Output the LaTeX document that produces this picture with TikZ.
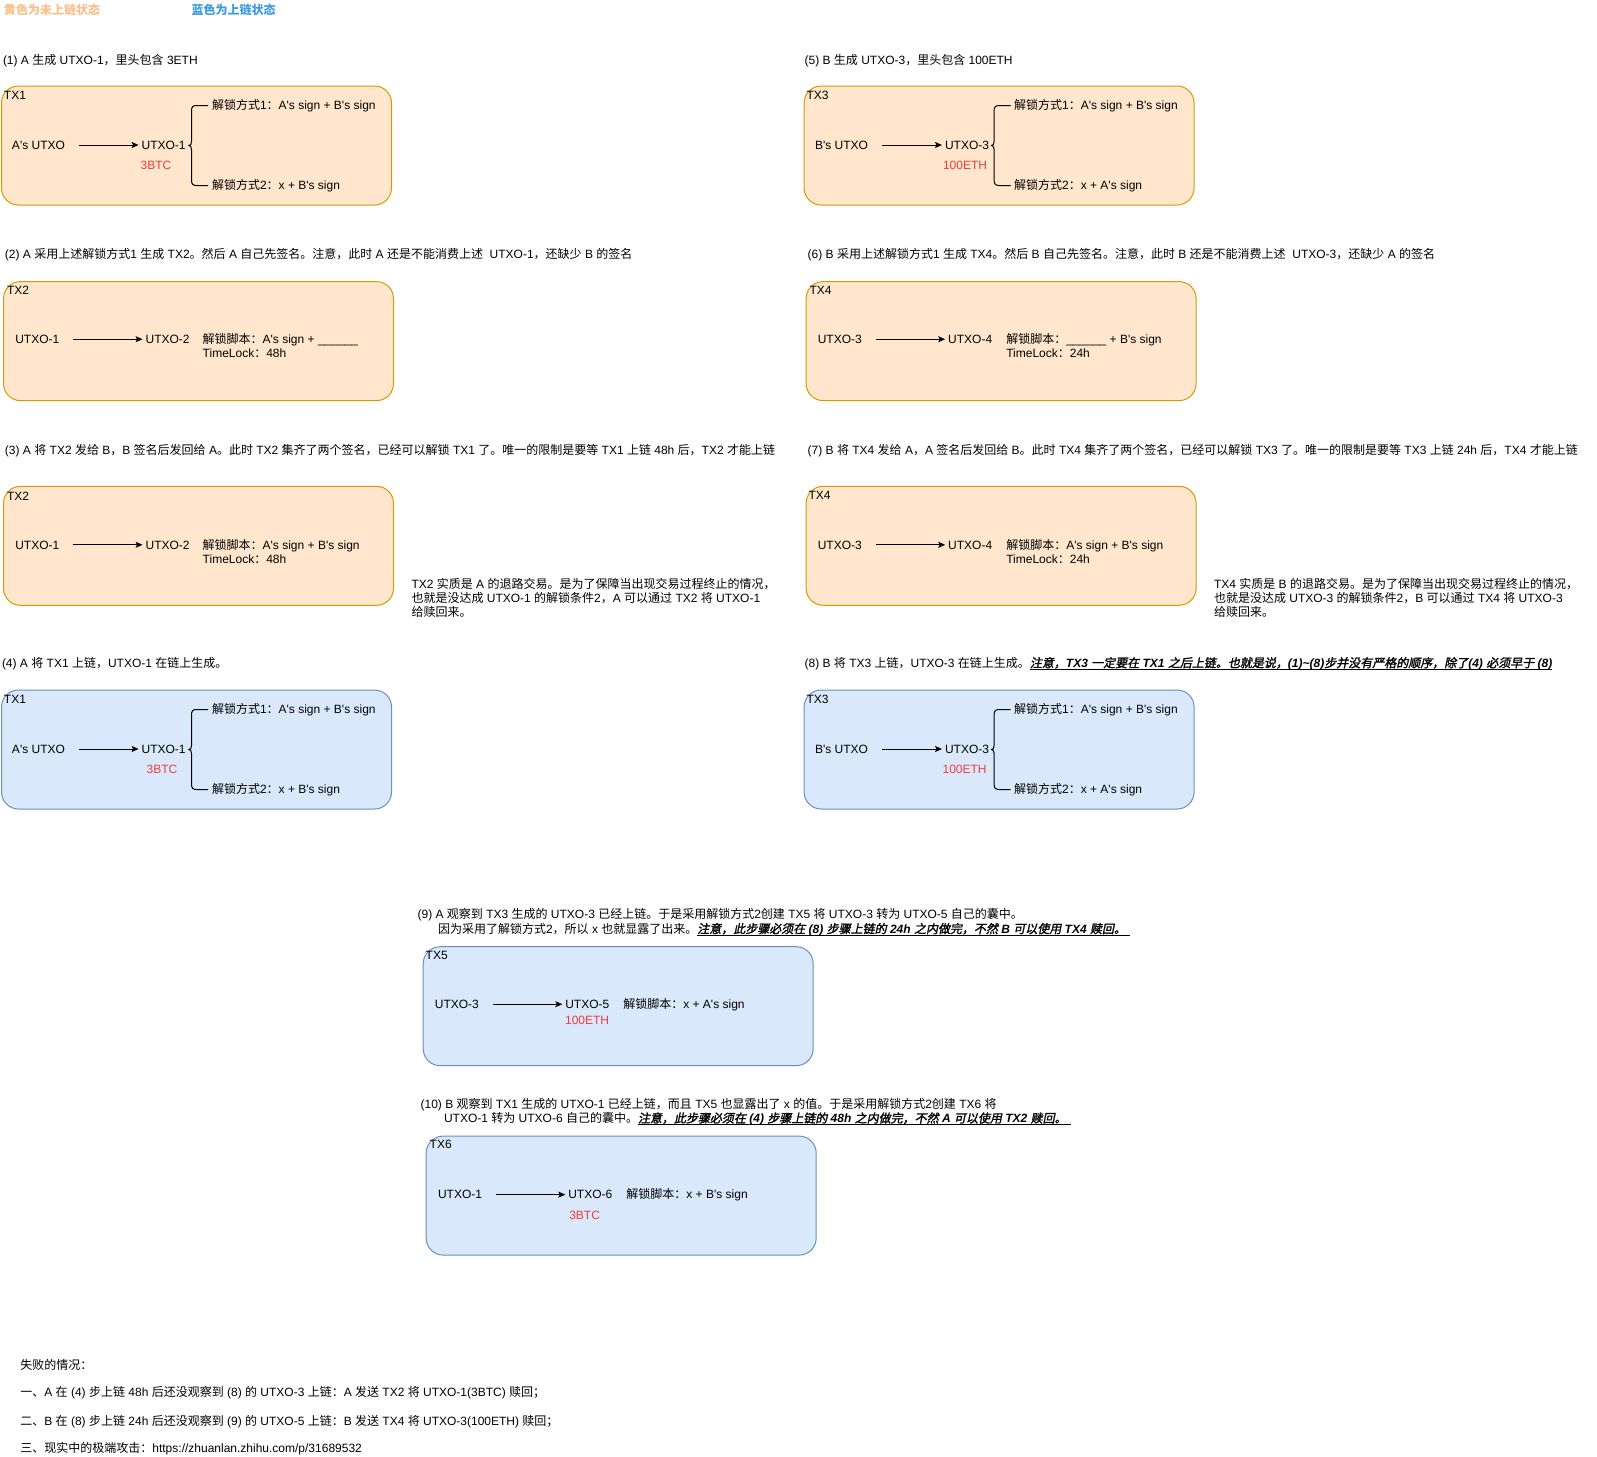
\documentclass[tikz,border=0pt]{standalone}
\usepackage{fontspec}
\usetikzlibrary{arrows.meta}

% Latin text in an Arial-width face, Chinese in Noto Sans CJK
\newfontfamily\latfont{Liberation Sans}
\newfontfamily\cjkfont{Noto Sans CJK SC}[
  ItalicFont={*}, ItalicFeatures={FakeSlant=0.2},
  BoldItalicFont={*}, BoldItalicFeatures={FakeSlant=0.2, FakeBold=1.6}]

% switch to the CJK face automatically for every run of Chinese characters
\XeTeXinterchartokenstate=1
\chardef\cjkcls=7
\makeatletter
\def\setcjkrange#1#2{\count@=#1\relax
  \loop\ifnum\count@<#2\relax\XeTeXcharclass\count@=\cjkcls\advance\count@\@ne\repeat}
\setcjkrange{"3000}{"3040}
\setcjkrange{"4E00}{"A000}
\setcjkrange{"FF00}{"FFF0}
\makeatother
\XeTeXinterchartoks 0 \cjkcls = {\begingroup\cjkfont}
\XeTeXinterchartoks 4095 \cjkcls = {\begingroup\cjkfont}
\XeTeXinterchartoks \cjkcls 0 = {\endgroup}
\XeTeXinterchartoks \cjkcls 4095 = {\endgroup}

% underlined emphasis
\newcommand\undl[1]{\setbox0=\hbox{#1}\rlap{\rule[-2.3pt]{\wd0}{0.9pt}}\box0}
\newcommand\blank{\_\_\_\_\_\_}

\definecolor{ylwfill}{HTML}{FFE6CC}
\definecolor{ylwline}{HTML}{D79B00}
\definecolor{blufill}{HTML}{DAE8FC}
\definecolor{bluline}{HTML}{6C8EBF}
\definecolor{amtred}{HTML}{F03C3C}
\definecolor{legy}{HTML}{F9C089}
\definecolor{legb}{HTML}{3B9AE8}

\tikzset{
  txt/.style={inner sep=0pt, outer sep=0pt, anchor=west, text height=8.6pt, text depth=0pt,
    font=\latfont\fontsize{12}{14.4}\selectfont},
  amount/.style={txt, anchor=center, text=amtred},
  ybox/.style={draw=ylwline, fill=ylwfill, line width=1pt, rounded corners=17pt,
    minimum width=390pt, minimum height=119pt, anchor=north west, inner sep=0pt},
  bbox/.style={ybox, draw=bluline, fill=blufill},
  flow/.style={-{Stealth[length=7pt,width=6pt,inset=1.5pt]}, line width=1pt,
    shorten <=14pt, shorten >=3pt},
  brc/.style={line width=1pt},
}

% curly bracket that splits an output into its two unlock conditions
\newcommand\unlockbrace{%
  \draw[brc] (207,20) -- (195.5,20) .. controls (192,20) and (190.5,21.5) .. (190.5,25)
    -- (190.5,56) .. controls (190.5,58.5) and (189.5,60) .. (188,60)
    .. controls (189.5,60) and (190.5,61.5) .. (190.5,64)
    -- (190.5,95) .. controls (190.5,98.5) and (192,100) .. (195.5,100) -- (207,100);}

\begin{document}
\begin{tikzpicture}[x=1pt,y=-1pt]
\fill[white] (0,0) rectangle (1597,1456);
\useasboundingbox (0,0) rectangle (1597,1456);

% legend
\node[txt, text=legy] (legendy) at (4,10) {\bfseries 黄色为未上链状态};
\node[txt, text=legb] (legendb) at (191.5,10) {\bfseries 蓝色为上链状态};

% ---------- step (1) / (5) ----------
\node[txt] (s1) at (3,60) {(1) A 生成 UTXO-1，里头包含 3ETH};
\node[txt] (s5) at (804.6,60) {(5) B 生成 UTXO-3，里头包含 100ETH};

\begin{scope}[shift={(1,85.5)}]
  \node[ybox] (tx1ybox) at (0,0) {};
  \node[txt] (tx1yname) at (3,9.5) {TX1};
  \node[txt] (tx1yin) at (11,59.5) {A's UTXO};
  \node[txt] (tx1yout) at (140.6,59.5) {UTXO-1};
  \node[amount] (tx1yamt) at (155,79.5) {3BTC};
  \unlockbrace
  \node[txt] (tx1yk1) at (211,19.5) {解锁方式1：A's sign + B's sign};
  \node[txt] (tx1yk2) at (211,99.5) {解锁方式2：x + B's sign};
  \draw[flow] (tx1yin) -- (tx1yout);
\end{scope}

\begin{scope}[shift={(803.6,85.5)}]
  \node[ybox] (tx3ybox) at (0,0) {};
  \node[txt] (tx3yname) at (3,9.5) {TX3};
  \node[txt] (tx3yin) at (11.4,59.5) {B's UTXO};
  \node[txt] (tx3yout) at (141.4,59.5) {UTXO-3};
  \node[amount] (tx3yamt) at (161.4,79.5) {100ETH};
  \unlockbrace
  \node[txt] (tx3yk1) at (210.5,19.5) {解锁方式1：A's sign + B's sign};
  \node[txt] (tx3yk2) at (210.5,99.5) {解锁方式2：x + A's sign};
  \draw[flow] (tx3yin) -- (tx3yout);
\end{scope}

% ---------- step (2) / (6) ----------
\node[txt] (s2) at (5,254.6) {(2) A 采用上述解锁方式1 生成 TX2。然后 A 自己先签名。注意，此时 A 还是不能消费上述\ \ UTXO-1，还缺少 B 的签名};
\node[txt] (s6) at (807.7,254.6) {(6) B 采用上述解锁方式1 生成 TX4。然后 B 自己先签名。注意，此时 B 还是不能消费上述\ \ UTXO-3，还缺少 A 的签名};

\begin{scope}[shift={(3,281.1)}]
  \node[ybox] (tx2abox) at (0,0) {};
  \node[txt] (tx2aname) at (4,9.5) {TX2};
  \node[txt] (tx2ain) at (12.3,58.1) {UTXO-1};
  \node[txt] (tx2aout) at (142.6,58.1) {UTXO-2};
  \node[txt] (tx2ascript) at (199.7,58.1) {解锁脚本：A's sign + \blank};
  \node[txt] (tx2alock) at (199.7,72.3) {TimeLock：48h};
  \draw[flow] (tx2ain) -- (tx2aout);
\end{scope}

\begin{scope}[shift={(805.6,281.1)}]
  \node[ybox] (tx4abox) at (0,0) {};
  \node[txt] (tx4aname) at (4,9.5) {TX4};
  \node[txt] (tx4ain) at (12.2,58.1) {UTXO-3};
  \node[txt] (tx4aout) at (142.6,58.1) {UTXO-4};
  \node[txt] (tx4ascript) at (200.7,58.1) {解锁脚本：\blank{} + B's sign};
  \node[txt] (tx4alock) at (200.7,72.3) {TimeLock：24h};
  \draw[flow] (tx4ain) -- (tx4aout);
\end{scope}

% ---------- step (3) / (7) ----------
\node[txt] (s3) at (5,450.2) {(3) A 将 TX2 发给 B，B 签名后发回给 A。此时 TX2 集齐了两个签名，已经可以解锁 TX1 了。唯一的限制是要等 TX1 上链 48h 后，TX2 才能上链};
\node[txt] (s7) at (807.7,450.2) {(7) B 将 TX4 发给 A，A 签名后发回给 B。此时 TX4 集齐了两个签名，已经可以解锁 TX3 了。唯一的限制是要等 TX3 上链 24h 后，TX4 才能上链};

\begin{scope}[shift={(3,485.8)}]
  \node[ybox] (tx2bbox) at (0,0) {};
  \node[txt] (tx2bname) at (4,10.5) {TX2};
  \node[txt] (tx2bin) at (12.3,59) {UTXO-1};
  \node[txt] (tx2bout) at (142.6,59) {UTXO-2};
  \node[txt] (tx2bscript) at (199.7,59) {解锁脚本：A's sign + B's sign};
  \node[txt] (tx2block) at (199.7,73.2) {TimeLock：48h};
  \draw[flow] (tx2bin) -- (tx2bout);
\end{scope}

\begin{scope}[shift={(805.6,485.8)}]
  \node[ybox] (tx4bbox) at (0,0) {};
  \node[txt] (tx4bname) at (3,9.5) {TX4};
  \node[txt] (tx4bin) at (12.2,59) {UTXO-3};
  \node[txt] (tx4bout) at (142.6,59) {UTXO-4};
  \node[txt] (tx4bscript) at (200.7,59) {解锁脚本：A's sign + B's sign};
  \node[txt] (tx4block) at (200.7,73.2) {TimeLock：24h};
  \draw[flow] (tx4bin) -- (tx4bout);
\end{scope}

% notes beside the refund transactions
\node[txt] (e2a) at (411.5,584.6) {TX2 实质是 A 的退路交易。是为了保障当出现交易过程终止的情况，};
\node[txt] (e2b) at (411.5,597.9) {也就是没达成 UTXO-1 的解锁条件2，A 可以通过 TX2 将 UTXO-1};
\node[txt] (e2c) at (411.5,612.1) {给赎回来。};
\node[txt] (e4a) at (1214,584.6) {TX4 实质是 B 的退路交易。是为了保障当出现交易过程终止的情况，};
\node[txt] (e4b) at (1214,597.9) {也就是没达成 UTXO-3 的解锁条件2，B 可以通过 TX4 将 UTXO-3};
\node[txt] (e4c) at (1214,612.1) {给赎回来。};

% ---------- step (4) / (8) ----------
\node[txt] (s4) at (2,663) {(4) A 将 TX1 上链，UTXO-1 在链上生成。};
\node[txt] (s8) at (804.6,663) {(8) B 将 TX3 上链，UTXO-3 在链上生成。\undl{\bfseries\itshape 注意，TX3 一定要在 TX1 之后上链。也就是说，(1)\textasciitilde(8)步并没有严格的顺序，除了(4) 必须早于 (8)}};

\begin{scope}[shift={(1,689.5)}]
  \node[bbox] (tx1bbox) at (0,0) {};
  \node[txt] (tx1bname) at (3,9.5) {TX1};
  \node[txt] (tx1bin) at (11,59.5) {A's UTXO};
  \node[txt] (tx1bout) at (140.6,59.5) {UTXO-1};
  \node[amount] (tx1bamt) at (161,79.5) {3BTC};
  \unlockbrace
  \node[txt] (tx1bk1) at (211,19.5) {解锁方式1：A's sign + B's sign};
  \node[txt] (tx1bk2) at (211,99.5) {解锁方式2：x + B's sign};
  \draw[flow] (tx1bin) -- (tx1bout);
\end{scope}

\begin{scope}[shift={(803.6,689.5)}]
  \node[bbox] (tx3bbox) at (0,0) {};
  \node[txt] (tx3bname) at (3,9.5) {TX3};
  \node[txt] (tx3bin) at (11.4,59.5) {B's UTXO};
  \node[txt] (tx3bout) at (141.4,59.5) {UTXO-3};
  \node[amount] (tx3bamt) at (161,79.5) {100ETH};
  \unlockbrace
  \node[txt] (tx3bk1) at (210.5,19.5) {解锁方式1：A's sign + B's sign};
  \node[txt] (tx3bk2) at (210.5,99.5) {解锁方式2：x + A's sign};
  \draw[flow] (tx3bin) -- (tx3bout);
\end{scope}

% ---------- step (9) ----------
\node[txt] (s9a) at (417.6,914.6) {(9) A 观察到 TX3 生成的 UTXO-3 已经上链。于是采用解锁方式2创建 TX5 将 UTXO-3 转为 UTXO-5 自己的囊中。};
\node[txt] (s9b) at (438,928.9) {因为采用了解锁方式2，所以 x 也就显露了出来。\undl{\bfseries\itshape 注意，此步骤必须在 (8) 步骤上链的 24h 之内做完，不然 B 可以使用 TX4 赎回。\hspace{4pt}}};

\begin{scope}[shift={(422.7,946.2)}]
  \node[bbox] (tx5box) at (0,0) {};
  \node[txt] (tx5name) at (3,8.5) {TX5};
  \node[txt] (tx5in) at (12.2,58) {UTXO-3};
  \node[txt] (tx5out) at (142.6,58) {UTXO-5};
  \node[amount] (tx5amt) at (164.4,74.3) {100ETH};
  \node[txt] (tx5script) at (200.6,58) {解锁脚本：x + A's sign};
  \draw[flow] (tx5in) -- (tx5out);
\end{scope}

% ---------- step (10) ----------
\node[txt] (s10a) at (420.6,1104) {(10) B 观察到 TX1 生成的 UTXO-1 已经上链，而且 TX5 也显露出了 x 的值。于是采用解锁方式2创建 TX6 将};
\node[txt] (s10b) at (444,1118.3) {UTXO-1 转为 UTXO-6 自己的囊中。\undl{\bfseries\itshape 注意，此步骤必须在 (4) 步骤上链的 48h 之内做完，不然 A 可以使用 TX2 赎回。\hspace{4pt}}};

\begin{scope}[shift={(425.7,1135.6)}]
  \node[bbox] (tx6box) at (0,0) {};
  \node[txt] (tx6name) at (4,9) {TX6};
  \node[txt] (tx6in) at (12.3,59) {UTXO-1};
  \node[txt] (tx6out) at (142.6,59) {UTXO-6};
  \node[amount] (tx6amt) at (158.9,79.4) {3BTC};
  \node[txt] (tx6script) at (200.7,59) {解锁脚本：x + B's sign};
  \draw[flow] (tx6in) -- (tx6out);
\end{scope}

% ---------- failure cases ----------
\node[txt] (f0) at (20.4,1364.8) {失败的情况：};
\node[txt] (f1) at (20.4,1392.3) {一、A 在 (4) 步上链 48h 后还没观察到 (8) 的 UTXO-3 上链：A 发送 TX2 将 UTXO-1(3BTC) 赎回；};
\node[txt] (f2) at (20.4,1420.8) {二、B 在 (8) 步上链 24h 后还没观察到 (9) 的 UTXO-5 上链：B 发送 TX4 将 UTXO-3(100ETH) 赎回；};
\node[txt] (f3) at (20.4,1448.3) {三、现实中的极端攻击：https://zhuanlan.zhihu.com/p/31689532};
\end{tikzpicture}
\end{document}
